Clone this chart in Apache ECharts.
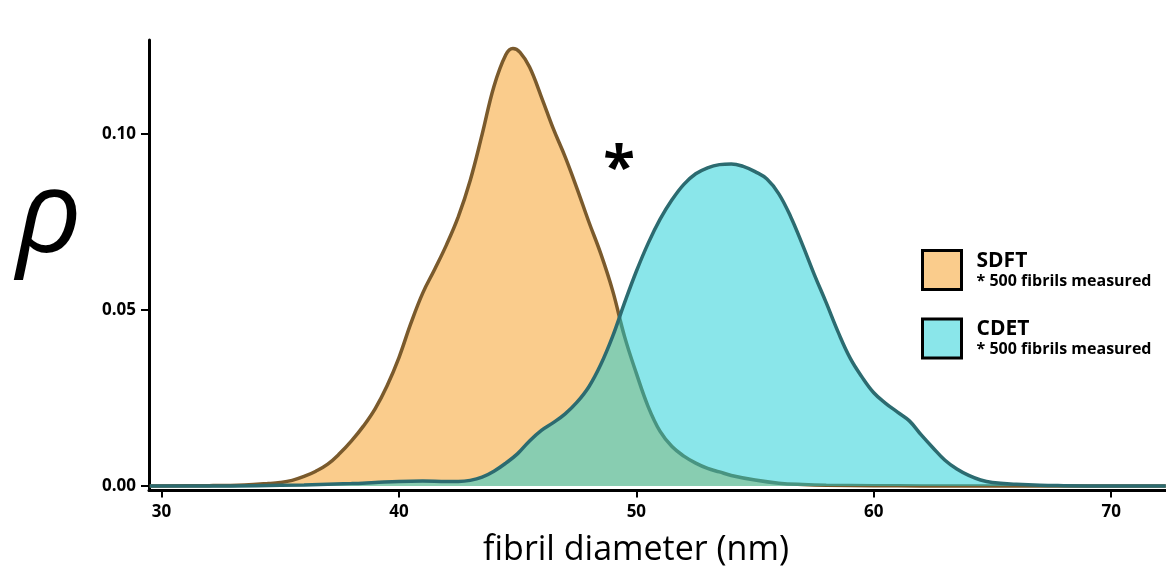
<!DOCTYPE html>
<html>
<head>
<meta charset="utf-8">
<script src="https://cdn.jsdelivr.net/npm/echarts@6/dist/echarts.min.js"></script>
<style>
  html, body { margin: 0; padding: 0; background: #fff; }
  #chart { width: 1166px; height: 577px; }
</style>
</head>
<body>
<div id="chart"></div>
<script>
// ---- data ----
const seriesNames = ['SDFT', 'CDET'];
const legendNote = '* 500 fibrils measured';
const xTicks = [30, 40, 50, 60, 70];
const yTicks = [0, 0.05, 0.10];

const sdftX = [29.5, 32, 33.5, 34.5, 35, 35.5, 36, 36.5, 37, 37.5, 38, 38.5, 39, 39.5, 40, 40.5, 41, 41.5, 42, 42.5, 43, 43.5, 44, 44.5, 44.8, 45.1, 45.5, 46, 46.5, 47, 47.5, 48, 48.5, 49, 49.5, 50, 50.5, 51, 51.5, 52, 52.5, 53, 53.5, 54, 55, 56, 57, 58, 60, 62, 72.3];
const sdftY = [0, 0.0001, 0.0003, 0.0007, 0.001, 0.0016, 0.0027, 0.0042, 0.0062, 0.0092, 0.0128, 0.017, 0.022, 0.0285, 0.0365, 0.0462, 0.0548, 0.0615, 0.0685, 0.0765, 0.0868, 0.0998, 0.1135, 0.1225, 0.1243, 0.1232, 0.119, 0.1105, 0.1015, 0.0935, 0.0845, 0.075, 0.066, 0.0555, 0.0425, 0.032, 0.0225, 0.0155, 0.0112, 0.0085, 0.0065, 0.005, 0.004, 0.003, 0.0017, 0.0008, 0.0004, 0.0002, 0.0001, 0, 0];

const cdetX = [29.5, 32, 34, 36, 38, 39, 40, 41, 42, 42.5, 43, 43.5, 44, 44.5, 45, 45.5, 46, 46.5, 47, 47.5, 48, 48.5, 49, 49.5, 50, 50.5, 51, 51.5, 52, 52.5, 53, 53.5, 54, 54.5, 55, 55.5, 56, 56.5, 57, 57.5, 58, 58.5, 59, 59.5, 60, 60.5, 61, 61.5, 62, 62.5, 63, 63.5, 64, 64.5, 65, 66, 67, 68, 70, 72.3];
const cdetY = [0, 0, 0.0001, 0.0003, 0.0007, 0.001, 0.0013, 0.0014, 0.0013, 0.0013, 0.0016, 0.0025, 0.0042, 0.0065, 0.0092, 0.0128, 0.0158, 0.018, 0.0205, 0.0238, 0.0282, 0.0345, 0.0425, 0.052, 0.061, 0.069, 0.0758, 0.0813, 0.0857, 0.0887, 0.0904, 0.0913, 0.0915, 0.0908, 0.0893, 0.0872, 0.083, 0.0765, 0.0685, 0.06, 0.052, 0.0437, 0.0364, 0.031, 0.0265, 0.0235, 0.021, 0.0185, 0.0145, 0.0108, 0.0073, 0.0048, 0.003, 0.0017, 0.001, 0.0005, 0.0002, 0.0001, 0, 0];

// ---- chart ----
const pairs = (xs, ys) => xs.map((x, i) => [x, ys[i]]);
const labelFont = '"Liberation Sans Narrow", "Open Sans", sans-serif';

const chart = echarts.init(document.getElementById('chart'), null, { renderer: 'canvas' });
chart.setOption({
  animation: false,
  backgroundColor: '#ffffff',
  grid: { left: 149, right: 0, top: 40, bottom: 86.5, outerBoundsMode: 'none', containLabel: false },
  xAxis: {
    type: 'value', min: 29.47, max: 72.31,
    axisLine: { show: true, onZero: false, lineStyle: { color: '#000', width: 3 } },
    axisTick: { show: true, customValues: xTicks, length: 7, lineStyle: { color: '#000', width: 2 } },
    axisLabel: { customValues: xTicks, margin: 13, color: '#000', fontSize: 17, fontWeight: 'bold', fontFamily: labelFont },
    splitLine: { show: false }
  },
  yAxis: {
    type: 'value', min: -0.00128, max: 0.1267,
    axisLine: { show: true, onZero: false, lineStyle: { color: '#000', width: 3 } },
    axisTick: { show: true, customValues: yTicks, length: 8, lineStyle: { color: '#000', width: 2 } },
    axisLabel: { customValues: yTicks, margin: 13, color: '#000', fontSize: 17, fontWeight: 'bold', fontFamily: labelFont,
      formatter: v => v.toFixed(2) },
    splitLine: { show: false }
  },
  legend: {
    orient: 'vertical', left: 916, top: 241.5, itemWidth: 39, itemHeight: 39, itemGap: 24, icon: 'rect',
    data: [
      { name: seriesNames[0], itemStyle: { color: '#FACC8C', borderColor: '#000', borderWidth: 3 } },
      { name: seriesNames[1], itemStyle: { color: '#8AE6EA', borderColor: '#000', borderWidth: 3 } }
    ],
    formatter: name => '{t|' + name + '}\n{s|' + legendNote + '}',
    textStyle: {
      rich: {
        t: { fontSize: 21, fontWeight: 'bold', color: '#000', fontFamily: '"Open Sans", sans-serif', lineHeight: 22, padding: [4, 0, 0, 10] },
        s: { fontSize: 16, fontWeight: 'bold', color: '#000', fontFamily: '"Open Sans", sans-serif', lineHeight: 22, padding: [0, 0, 0, 10] }
      }
    }
  },
  series: [
    {
      name: seriesNames[0], type: 'line', smooth: 0.4, symbol: 'none', z: 2,
      data: pairs(sdftX, sdftY),
      lineStyle: { color: '#7a5a2c', width: 3.5 },
      itemStyle: { color: '#FACC8C' },
      areaStyle: { color: 'rgba(245,153,25,0.5)', opacity: 1 }
    },
    {
      name: seriesNames[1], type: 'line', smooth: 0.4, symbol: 'none', z: 3,
      data: pairs(cdetX, cdetY),
      lineStyle: { color: '#2c6b70', width: 3.5 },
      itemStyle: { color: '#8AE6EA' },
      areaStyle: { color: 'rgba(21,205,213,0.5)', opacity: 1 }
    }
  ],
  graphic: [
    { type: 'text', x: 49, y: 219, style: { text: 'ρ', font: 'italic 115px "Open Sans", sans-serif', fill: '#000', textAlign: 'center', textVerticalAlign: 'middle' } },
    { type: 'text', x: 636, y: 550, style: { text: 'fibril diameter (nm)', font: '34px "Open Sans", sans-serif', fill: '#000', textAlign: 'center', textVerticalAlign: 'middle' } },
    { type: 'text', x: 619, y: 170, style: { text: '*', font: 'bold 58px "Open Sans", sans-serif', fill: '#000', textAlign: 'center', textVerticalAlign: 'middle' } }
  ]
});
</script>
</body>
</html>
